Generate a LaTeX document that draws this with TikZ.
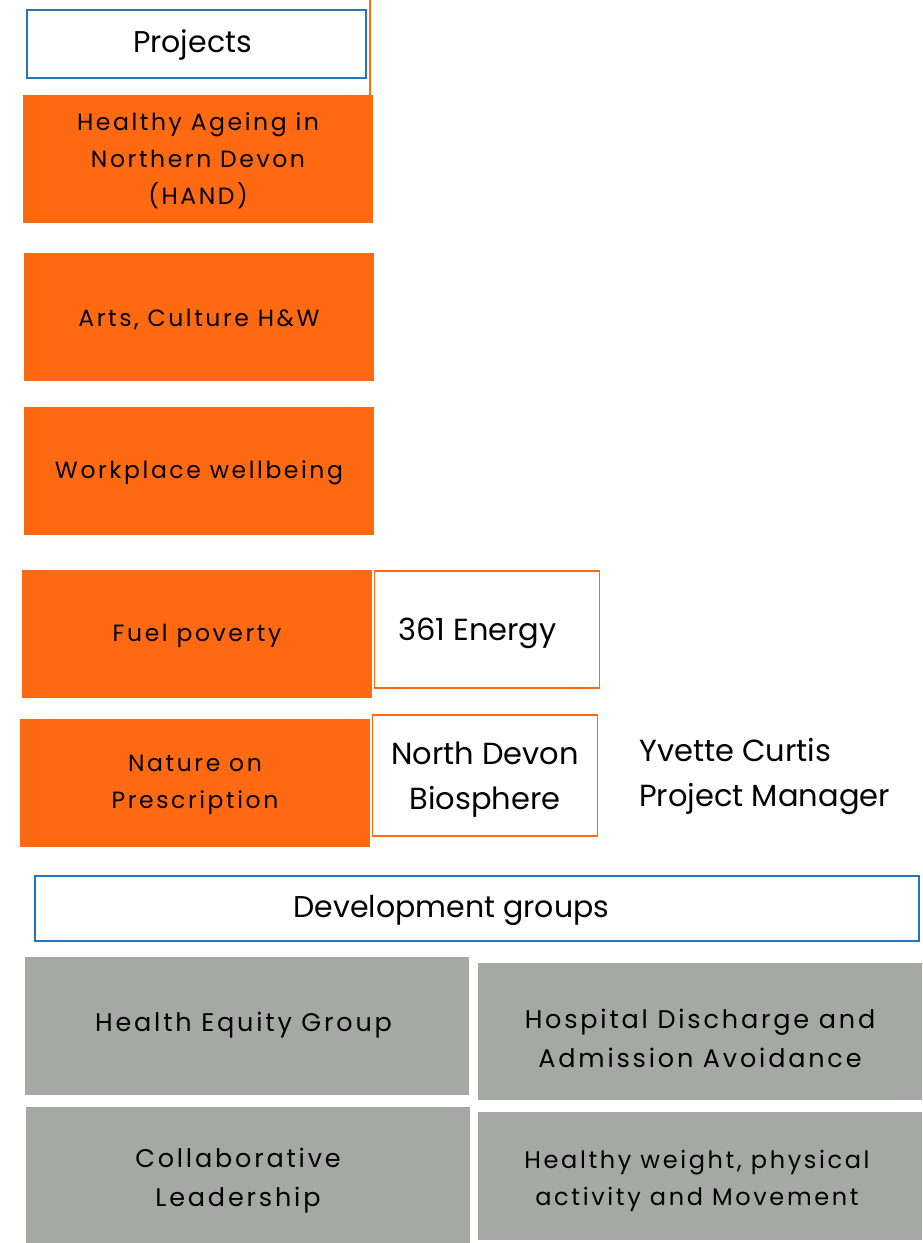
\documentclass[tikz,border=0pt]{standalone}
\usepackage{fontspec}
\setmainfont{Poppins}
\newfontfamily\spaced[LetterSpace=11]{Poppins}
\definecolor{orng}{HTML}{FF6912}
\definecolor{blu}{HTML}{1F77C4}
\definecolor{gry}{HTML}{A5A8A5}
\begin{document}
\begin{tikzpicture}[x=1pt,y=-1pt,
  obox/.style={fill=orng,draw=none,inner sep=0,minimum width=350pt,minimum height=128pt},
  otext/.style={inner sep=0,align=center,font=\spaced\fontsize{23.5}{37}\selectfont},
  wbox/.style={fill=white,draw=orng,line width=1.5pt,inner sep=0,minimum width=225pt},
  wtext/.style={inner sep=0,align=center,font=\fontsize{30.5}{45}\selectfont},
  bbox/.style={fill=white,draw=blu,line width=2.5pt,inner sep=0},
  btext/.style={inner sep=0,align=center,font=\fontsize{30}{30}\selectfont},
  gbox/.style={fill=gry,draw=none,inner sep=0,minimum width=444pt},
  gtext/.style={inner sep=0,align=center,font=\spaced\fontsize{25.5}{39}\selectfont},
  plain/.style={inner sep=0,align=left,font=\fontsize{30.5}{45}\selectfont}]
\useasboundingbox (0,0) rectangle (922,1243);
\coordinate (ltop) at (370,0);
\coordinate (lbot) at (370,95);
\draw[orng,line width=1.5pt] (ltop) -- (lbot);
% Projects
\node[bbox,minimum width=339pt,minimum height=68pt] (proj) at (196.5,44) {};
\node[btext] (projt) at ([xshift=-4pt,yshift=-1pt]proj.center) {Projects};
% orange project boxes
\node[obox] (hand) at (198,159) {};
\node[otext] (handt) at ([yshift=-2pt]hand.center) {Healthy Ageing in\\Northern Devon\\(HAND)};
\node[obox] (arts) at (199,317) {};
\node[otext] (artst) at ([yshift=-2pt]arts.center) {Arts, Culture H\&W};
\node[obox] (work) at (199,471) {};
\node[otext] (workt) at ([yshift=-2pt]work.center) {Workplace wellbeing};
\node[obox] (fuel) at (197,634) {};
\node[otext] (fuelt) at ([yshift=-2pt]fuel.center) {Fuel poverty};
\node[obox] (nature) at (195,782.5) {};
\node[otext] (naturet) at ([yshift=-2pt]nature.center) {Nature on\\Prescription};
% partners
\node[wbox,minimum height=117pt] (energy) at (487,629.5) {};
\node[wtext] (energyt) at ([xshift=-9.5pt,yshift=-4pt]energy.center) {361 Energy};
\node[wbox,minimum height=121pt] (bio) at (485,775.5) {};
\node[wtext] (biot) at ([yshift=-4.5pt]bio.center) {North Devon\\Biosphere};
\node[plain,anchor=west] (yvette) at (639,777) {Yvette Curtis\\Project Manager};
% development groups
\node[bbox,minimum width=884pt,minimum height=65pt] (dev) at (477,908.5) {};
\node[btext] (devt) at ([xshift=-25.5pt,yshift=-2pt]dev.center) {Development groups};
\node[gbox,minimum height=138pt] (equity) at (246.5,1026) {};
\node[gtext] (equityt) at ([xshift=-3pt,yshift=1pt]equity.center) {Health Equity Group};
\node[gbox,minimum height=137pt] (hosp) at (700,1031.5) {};
\node[gtext] (hospt) at ([yshift=-7pt]hosp.center) {Hospital Discharge and\\Admission Avoidance};
\node[gbox,minimum height=136pt] (collab) at (248,1175) {};
\node[gtext] (collabt) at ([xshift=-10pt,yshift=-6pt]collab.center) {Collaborative\\Leadership};
\node[gbox,minimum height=128pt] (weight) at (700,1176) {};
\node[gtext,font=\spaced\fontsize{24}{37}\selectfont] (weightt) at ([xshift=-3pt,yshift=-5pt]weight.center) {Healthy weight, physical\\activity and Movement};
\end{tikzpicture}
\end{document}
